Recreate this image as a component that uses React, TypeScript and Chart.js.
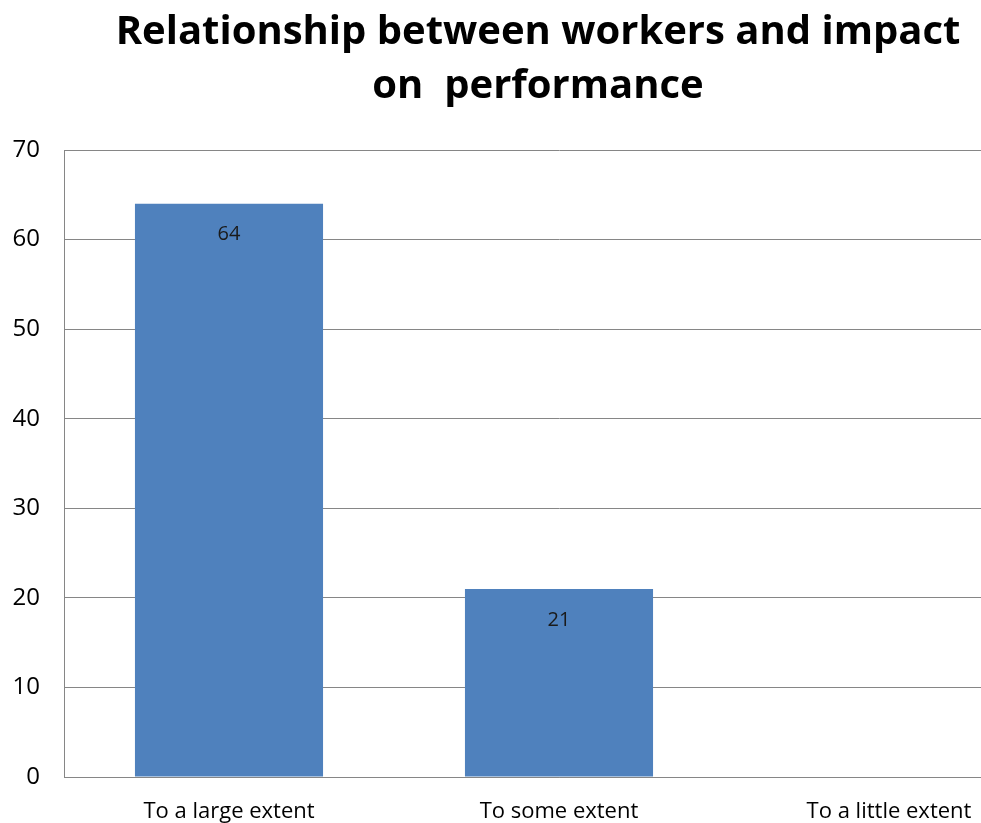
import React, { useEffect, useRef } from "react";
import { Chart, registerables } from "chart.js";

Chart.register(...registerables);

const chartTitle: string[] = ["Relationship between workers and impact", "on  performance"];
const categories: string[] = ["To a large extent", "To some extent", "To a little extent"];
const values: (number | null)[] = [64, 21, null];
const yTicks: number[] = [0, 10, 20, 30, 40, 50, 60, 70];

const FONT = "'Open Sans', Lato, sans-serif";

const valueLabels = {
  id: "valueLabels",
  afterDatasetsDraw(chart: any) {
    const ctx = chart.ctx;
    const meta = chart.getDatasetMeta(0);
    ctx.save();
    ctx.font = `20px ${FONT}`;
    ctx.fillStyle = "#1a1a1a";
    ctx.textAlign = "center";
    ctx.textBaseline = "middle";
    meta.data.forEach((bar: any, i: number) => {
      const v = values[i];
      if (v === null || v === undefined) return;
      ctx.fillText(String(v), bar.x, bar.y + 31);
    });
    ctx.restore();
  },
};

// Title spans the full canvas width (ignoring the right layout padding)
const titleSpan = {
  id: "titleSpan",
  afterLayout(chart: any) {
    const t = chart.titleBlock;
    if (t) {
      t.left = 0;
      t.right = chart.width;
    }
  },
};

export default function App() {
  const ref = useRef<HTMLCanvasElement | null>(null);
  useEffect(() => {
    if (!ref.current) return;
    const chart = new Chart(ref.current, {
      type: "bar",
      data: {
        labels: categories,
        datasets: [
          {
            data: values,
            backgroundColor: "#4F81BD",
            borderWidth: 0,
            categoryPercentage: 1,
            barPercentage: 0.57,
          },
        ],
      },
      options: {
        responsive: false,
        animation: false,
        devicePixelRatio: 1,
        layout: { padding: { left: 0, right: 22, top: 0, bottom: 0 } },
        plugins: {
          legend: { display: false },
          tooltip: { enabled: false },
          title: {
            display: true,
            text: chartTitle,
            color: "#000000",
            font: { family: FONT, size: 40, weight: "bold", lineHeight: 1.35 },
            padding: { top: 6, bottom: 36 },
          },
        },
        scales: {
          x: {
            grid: { display: false, drawTicks: false },
            border: { display: true, color: "#868686", width: 1 },
            ticks: {
              color: "#000000",
              font: { family: FONT, size: 22 },
              padding: 22,
              maxRotation: 0,
              autoSkip: false,
            },
            afterFit: (s: any) => {
              s.height = 73;
            },
          },
          y: {
            min: 0,
            max: 70,
            afterBuildTicks: (s: any) => {
              s.ticks = yTicks.map((v) => ({ value: v }));
            },
            grid: { color: "#868686", drawTicks: false, lineWidth: 1 },
            border: { display: true, color: "#868686", width: 1 },
            ticks: {
              color: "#000000",
              font: { family: FONT, size: 24 },
              padding: 24,
            },
            afterFit: (s: any) => {
              s.width = 64;
            },
          },
        },
      },
      plugins: [valueLabels, titleSpan],
    });
    return () => chart.destroy();
  }, []);
  return (
    <div
      style={{
        position: "fixed",
        left: 0,
        top: 0,
        width: 981,
        height: 823,
        overflow: "hidden",
        background: "#ffffff",
      }}
    >
      <canvas ref={ref} width={1076} height={850} style={{ width: 1076, height: 850, display: "block" }} />
    </div>
  );
}
